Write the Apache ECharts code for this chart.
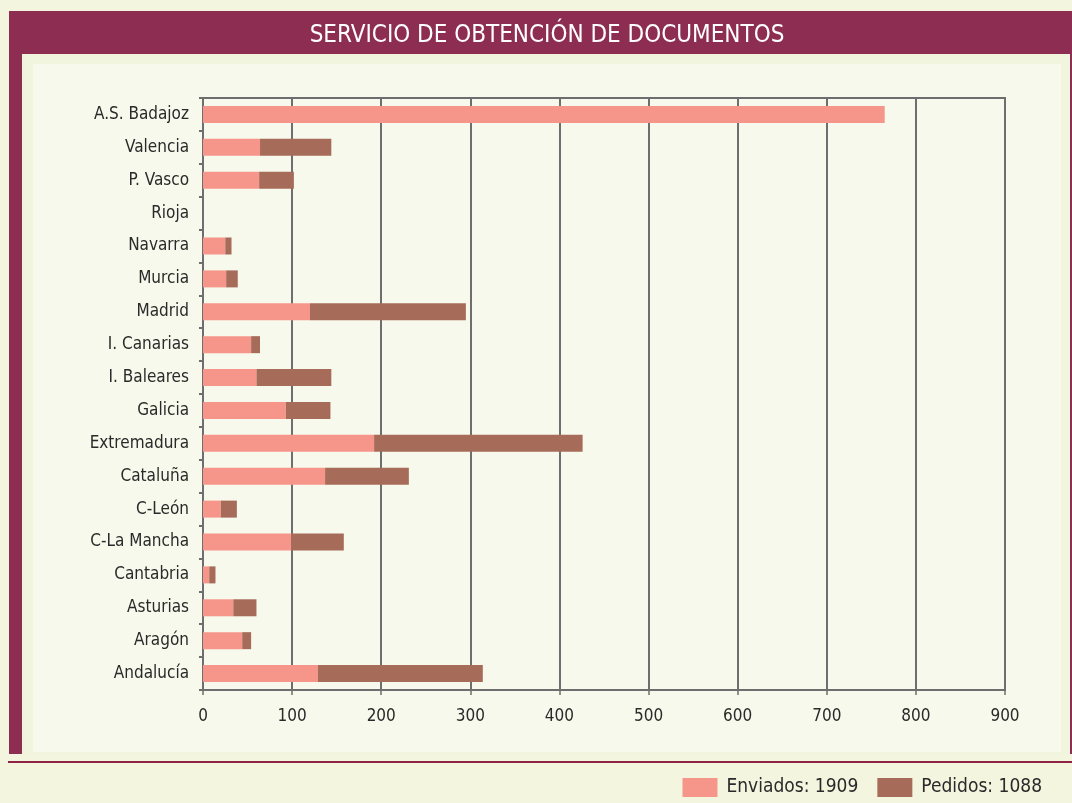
<!DOCTYPE html>
<html>
<head>
<meta charset="utf-8">
<script src="https://cdn.jsdelivr.net/npm/echarts@6/dist/echarts.min.js"></script>
<style>
html,body{margin:0;padding:0;background:#f3f5de;}
#c{width:1072px;height:803px;}
</style>
</head>
<body>
<div id="c"></div>
<script>
const titleText = 'SERVICIO DE OBTENCIÓN DE DOCUMENTOS';
const categories = ['A.S. Badajoz','Valencia','P. Vasco','Rioja','Navarra','Murcia','Madrid','I. Canarias','I. Baleares','Galicia','Extremadura','Cataluña','C-León','C-La Mancha','Cantabria','Asturias','Aragón','Andalucía'];
const enviados = [765, 64, 63, 0, 25, 26, 120, 54, 60, 93, 192, 137, 20, 99, 7, 34, 44, 129];
const pedidos  = [0, 80, 39, 0, 7, 13, 175, 10, 84, 50, 234, 94, 18, 59, 7, 26, 10, 185];
const seriesNames = ['Enviados: 1909', 'Pedidos: 1088'];
const xTicks = [0, 100, 200, 300, 400, 500, 600, 700, 800, 900];

const FONT = '"Liberation Sans Narrow", "DejaVu Sans Condensed", "Roboto Condensed", sans-serif';
const chart = echarts.init(document.getElementById('c'), null, {renderer: 'canvas'});
chart.setOption({
  backgroundColor: '#f3f5de',
  animation: false,
  textStyle: {fontFamily: FONT},
  graphic: [
    {type: 'rect', silent: true, z: -10, shape: {x: 9, y: 11, width: 1063, height: 743}, style: {fill: '#8e2d52'}},
    {type: 'rect', silent: true, z: -9, shape: {x: 22, y: 54, width: 1048, height: 700}, style: {fill: '#f2f5de'}},
    {type: 'rect', silent: true, z: -8, shape: {x: 33, y: 64, width: 1028, height: 688}, style: {fill: '#f6f9eb'}},
    {type: 'rect', silent: true, z: -7, shape: {x: 8, y: 761, width: 1064, height: 2}, style: {fill: '#8e2346'}},
    {type: 'text', silent: true, z: 5, x: 547, y: 24,
      style: {text: titleText, fill: '#ffffff', font: '24px ' + FONT, textAlign: 'center', textVerticalAlign: 'top'}}
  ],
  legend: {
    right: 30, top: 778, padding: 0,
    itemWidth: 35, itemHeight: 19, itemGap: 19,
    icon: 'rect',
    textStyle: {fontSize: 19, color: '#2a2a2a', fontFamily: FONT, padding: [0, 0, 0, 4]},
    data: seriesNames
  },
  grid: {
    left: 203, right: 67, top: 98, bottom: 113,
    show: true, borderColor: '#6e6e6e', borderWidth: 2, backgroundColor: 'transparent'
  },
  xAxis: {
    type: 'value', min: xTicks[0], max: xTicks[xTicks.length - 1], interval: 100,
    axisLine: {show: true, lineStyle: {color: '#6e6e6e', width: 2}},
    axisTick: {show: true, length: 5, lineStyle: {color: '#6e6e6e', width: 1.5}},
    splitLine: {show: true, lineStyle: {color: '#6e6e6e', width: 2}},
    axisLabel: {color: '#2a2a2a', fontSize: 17, margin: 18, fontFamily: FONT}
  },
  yAxis: {
    type: 'category', data: categories, inverse: true,
    axisLine: {show: true, lineStyle: {color: '#6e6e6e', width: 2}},
    axisTick: {show: true, length: 4, lineStyle: {color: '#6e6e6e', width: 2}},
    axisLabel: {color: '#2a2a2a', fontSize: 17, margin: 14, fontFamily: FONT}
  },
  series: [
    {name: seriesNames[0], type: 'bar', stack: 's', data: enviados, barWidth: 17,
      itemStyle: {color: '#f6968a'}},
    {name: seriesNames[1], type: 'bar', stack: 's', data: pedidos, barWidth: 17,
      itemStyle: {color: '#a76b5a'}}
  ]
});
</script>
</body>
</html>
